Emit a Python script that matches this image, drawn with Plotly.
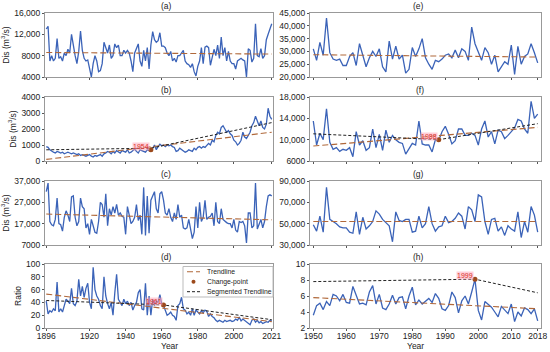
import plotly.graph_objects as go

years_long = list(range(1896, 2022))
years_short = list(range(1950, 2019))

a_vals = [13000, 13500, 7000, 8000, 7000, 7500, 11200, 7500, 7800, 7000, 8500, 8000, 9200, 8500, 12000, 9500,
          8000, 6500, 8800, 12600, 9000, 7500, 7000, 7200, 5500, 4000, 6500, 8000, 7000, 5000, 5200, 6500,
          10500, 9500, 8500, 10000, 7500, 8000, 10200, 9500, 10000, 8000, 8000, 9000, 8500, 9000, 8500, 7000,
          5000, 8500, 9500, 10200, 7000, 6000, 9000, 7000, 9500, 5500, 10000, 12500, 11000, 10500, 10800, 12300,
          9800, 9800, 9500, 8500, 8000, 8800, 7000, 7500, 6800, 8000, 8000, 8500, 9000, 7000, 6500, 6300,
          5800, 6500, 5000, 4200, 6000, 7000, 9500, 6500, 9600, 9800, 9500, 6200, 7500, 9200, 8000, 10000,
          7500, 11500, 8000, 9500, 7000, 8800, 7000, 6500, 6500, 5500, 7000, 7200, 7500, 7200, 7000, 4000,
          9300, 9000, 6800, 7500, 14000, 8000, 7800, 9300, 7500, 8000, 11000, 12000, 13000, 14000]
b_vals = [900, 850, 700, 600, 550, 500, 600, 550, 500, 550, 450, 500, 550, 500, 450, 500,
          450, 400, 450, 350, 400, 350, 300, 350, 400, 300, 250, 350, 300, 350, 400, 300,
          450, 500, 600, 550, 450, 600, 500, 650, 600, 500, 650, 600, 550, 700, 500, 550,
          650, 750, 600, 500, 700, 650, 600, 550, 700, 650, 700, 800, 1000, 700, 900, 1050,
          950, 1000, 900, 1000, 950, 1000, 900, 850, 600, 650, 800, 700, 650, 550, 600, 700,
          650, 600, 800, 700, 850, 900, 800, 900, 850, 950, 1100, 1000, 1300, 1200, 1600, 1800,
          1700, 2100, 2200, 2000, 1800, 1900, 1700, 1600, 1300, 1200, 1000, 1100, 1300, 1800, 1500, 1400,
          1600, 1800, 2200, 2400, 2800, 2500, 2200, 2500, 2100, 2000, 2300, 3300, 2800, 2600]
c_vals = [32000, 36000, 18000, 16500, 16000, 19000, 29000, 17000, 16500, 13500, 20000, 23000, 21000, 18000, 29500, 30000,
          20000, 16000, 18000, 29000, 25000, 24000, 15000, 17000, 12000, 19000, 16000, 13000, 12500, 18000, 27000, 26000,
          20000, 31000, 16000, 24000, 21000, 25000, 22000, 26000, 21000, 22000, 20500, 20000, 12000, 25000, 21000, 17000,
          18000, 20000, 26000, 18500, 21000, 12000, 34000, 11500, 30000, 12500, 28000, 30000, 32000, 24000, 22000, 31000,
          32000, 28000, 22000, 21000, 24000, 20000, 18000, 22000, 19000, 26000, 20000, 21000, 15000, 14500, 15000, 19000,
          14000, 10000, 13000, 25000, 15000, 27000, 18000, 20000, 28000, 19000, 20000, 20500, 22000, 16000, 27000, 18000,
          17000, 24000, 19000, 18000, 17500, 17000, 17000, 15000, 19000, 14000, 13000, 18000, 17500, 18000, 16000, 8000,
          22000, 22000, 15000, 16000, 36000, 14500, 17000, 19000, 15000, 18000, 25000, 30000, 30500, 30000]
d_vals = [42, 22, 27, 25, 30, 27, 72, 25, 30, 25, 35, 45, 42, 38, 62, 38,
          35, 42, 76, 50, 65, 48, 62, 70, 40, 30, 95, 60, 50, 45, 35, 30,
          80, 50, 38, 30, 40, 20, 55, 84, 45, 40, 35, 45, 38, 42, 35, 40,
          28, 35, 40, 55, 60, 30, 28, 70, 20, 50, 20, 45, 35, 42, 40, 52,
          38, 35, 28, 20, 22, 25, 20, 18, 12, 35, 38, 48, 30, 28, 22, 25,
          20, 30, 20, 28, 25, 22, 27, 24, 28, 26, 18, 22, 18, 16, 12, 10,
          12, 10, 9, 12, 10, 11, 12, 10, 11, 14, 12, 17, 11, 14, 12, 10,
          8, 5, 12, 14, 9, 12, 8, 10, 7, 8, 10, 9, 12, 11]

e_vals = [31000, 26500, 33500, 28500, 43000, 29500, 27000, 26500, 27000, 24500, 24500, 28000, 29500, 24500, 33000, 28000,
          24000, 27500, 30000, 28000, 31000, 24000, 22000, 34000, 27000, 32000, 27000, 28500, 21500, 23000, 31500, 28000,
          31000, 35000, 27500, 25000, 23000, 26500, 26000, 27000, 28500, 29000, 27500, 30500, 27500, 31000, 30000, 26500,
          39500, 33000, 30000, 26500, 31500, 29500, 25000, 28500, 22000, 24000, 26000, 25000, 32500, 21000, 32000, 25000,
          28000, 29000, 33000, 29500, 25500]
f_vals = [13500, 9000, 11200, 10000, 15800, 9500, 8200, 8500, 7800, 8200, 8000, 8500, 6800, 11500, 9000, 9800,
          8000, 8500, 12000, 8500, 11000, 8000, 11800, 9500, 10800, 10000, 9500, 9300, 7300, 8200, 9300, 9000,
          13500, 9200, 9000, 9000, 7700, 10000, 9800, 11500, 12500, 11000, 9200, 9800, 12000, 12000, 10800, 10800,
          11200, 10800, 9000, 12000, 13500, 10500, 11500, 9200, 11800, 11500, 10200, 10800, 11500, 12200, 13800, 13500,
          12000, 11200, 17200, 14000, 14800]
g_vals = [49000, 43000, 57000, 42000, 84000, 54000, 52000, 50000, 47000, 46000, 46000, 42000, 41000, 61000, 40000, 56000,
          45000, 48000, 52000, 62000, 59000, 54000, 51000, 48000, 33000, 61000, 53000, 52000, 54000, 54000, 42000, 43000,
          57000, 46000, 50000, 66000, 50000, 43000, 47000, 48000, 57000, 51000, 52000, 55000, 60000, 57000, 45000, 66000,
          63000, 52000, 77000, 75000, 52000, 40000, 54000, 55000, 43000, 47000, 39000, 48000, 45000, 43000, 61000, 37000,
          52000, 42000, 66000, 58000, 42000]
h_vals = [3.6, 4.8, 5.1, 4.3, 5.3, 4.8, 6.2, 6.0, 5.4, 6.2, 5.2, 5.1, 7.2, 6.2, 5.0, 5.1,
          4.9, 6.5, 7.3, 5.0, 6.2, 4.5, 4.3, 5.0, 6.1, 5.0, 5.8, 5.9, 4.4, 6.0, 7.1, 4.9,
          5.5, 5.0, 5.3, 5.7, 5.2, 6.3, 5.7, 4.4, 4.2, 4.8, 6.5, 5.8, 3.9, 5.4, 6.0, 5.0,
          6.5, 8.1, 4.2, 3.0, 5.3, 4.9, 4.6, 4.0, 3.4, 4.7, 4.2, 3.8, 5.0, 2.8, 4.0, 3.5,
          4.5, 4.3, 3.8, 4.4, 2.9]

# trendline endpoints (first year, last year)
trend_a = [8600, 8300]
trend_b = [100, 1800]
trend_c = [21500, 18800]
trend_d = [53, 10]
trend_e = [28700, 27800]
trend_f = [8800, 12300]
trend_g = [52000, 52000]
trend_h = [5.8, 4.4]

# change points [year, value] and segmented trendlines [start, change-point, end]
cp_b = [1954, 700]
seg_b = [700, 800, 2400]
cp_d = [1961, 36]
seg_d = [43, 36, 13]
cp_f = [1988, 10000]
seg_f = [11100, 10000, 13000]
cp_h = [1999, 8.1]
seg_h = [7.8, 8.1, 6.4]

left_ticks = [1896, 1920, 1940, 1960, 1980, 2000, 2021]
right_ticks = [1950, 1960, 1970, 1980, 1990, 2000, 2010, 2018]

yt_a = [4000, 8000, 12000, 16000]; yl_a = ["4000", "8000", "12,000", "16,000"]
yt_b = [0, 1000, 2000, 3000, 4000]; yl_b = ["0", "1000", "2000", "3000", "4000"]
yt_c = [7000, 17000, 27000, 37000]; yl_c = ["7000", "17,000", "27,000", "37,000"]
yt_d = [0, 20, 40, 60, 80, 100]; yl_d = ["0", "20", "40", "60", "80", "100"]
yt_e = [20000, 25000, 30000, 35000, 40000, 45000]; yl_e = ["20,000", "25,000", "30,000", "35,000", "40,000", "45,000"]
yt_f = [6000, 10000, 14000, 18000]; yl_f = ["6000", "10,000", "14,000", "18,000"]
yt_g = [30000, 50000, 70000, 90000]; yl_g = ["30,000", "50,000", "70,000", "90,000"]
yt_h = [2, 4, 6, 8, 10]; yl_h = ["2", "4", "6", "8", "10"]

legend_labels = ["Trendline", "Change-point", "Segmented Trendline"]

W, H = 550, 352
LINE = "#3b63b8"
TREND = "#b0683a"
SEG = "#222222"
CPC = "#9c4a1c"
FONT = "Liberation Sans, Arial, sans-serif"
TXT = "#222"

def px_x(a, b):
    return [a / W, b / W]

def px_y(top, bot):
    return [1 - bot / H, 1 - top / H]

def fx(p):
    return p / W

def fy(p):
    return 1 - p / H

left_dom = px_x(45, 273)
right_dom = px_x(310, 541)
rows = [(13, 77), (97, 161), (181, 245), (264, 328)]

panels = [
    ("a", years_long, a_vals, trend_a, None, None, yt_a, yl_a, [4000, 16000], "left", 0),
    ("b", years_long, b_vals, trend_b, cp_b, seg_b, yt_b, yl_b, [0, 4000], "left", 1),
    ("c", years_long, c_vals, trend_c, None, None, yt_c, yl_c, [7000, 37000], "left", 2),
    ("d", years_long, d_vals, trend_d, cp_d, seg_d, yt_d, yl_d, [0, 100], "left", 3),
    ("e", years_short, e_vals, trend_e, None, None, yt_e, yl_e, [20000, 45000], "right", 0),
    ("f", years_short, f_vals, trend_f, cp_f, seg_f, yt_f, yl_f, [6000, 18000], "right", 1),
    ("g", years_short, g_vals, trend_g, None, None, yt_g, yl_g, [30000, 90000], "right", 2),
    ("h", years_short, h_vals, trend_h, cp_h, seg_h, yt_h, yl_h, [2, 10], "right", 3),
]

fig = go.Figure()
annotations = []
shapes = []
layout = {}
for i, (name, xs, ys, tr, cp, seg, yt, yl, yr, side, r) in enumerate(panels):
    k = "" if i == 0 else str(i + 1)
    xa, ya = "x" + k, "y" + k
    xdom = left_dom if side == "left" else right_dom
    ydom = px_y(*rows[r])
    xticks = left_ticks if side == "left" else right_ticks
    xrange = [1895.3, 2021.7] if side == "left" else [1949, 2019]
    bottom = r == 3
    fig.add_trace(go.Scatter(x=xs, y=ys, mode="lines", line=dict(color=LINE, width=1.3),
                             xaxis=xa, yaxis=ya, showlegend=False, hoverinfo="skip"))
    fig.add_trace(go.Scatter(x=[xs[0], xs[-1]], y=tr, mode="lines",
                             line=dict(color=TREND, width=1.1, dash="6px,3px"),
                             xaxis=xa, yaxis=ya, name="Trendline", showlegend=False))
    if cp is not None:
        fig.add_trace(go.Scatter(x=[xs[0], cp[0], xs[-1]], y=seg, mode="lines",
                                 line=dict(color=SEG, width=1.0, dash="3px,2px"),
                                 xaxis=xa, yaxis=ya, name="Segmented Trendline", showlegend=False))
        fig.add_trace(go.Scatter(x=[cp[0]], y=[cp[1]], mode="markers",
                                 marker=dict(color=CPC, size=5),
                                 xaxis=xa, yaxis=ya, name="Change-point", showlegend=False))
        annotations.append(dict(x=cp[0], y=cp[1], xref=xa, yref=ya, text=str(cp[0]),
                                showarrow=False, xanchor="right", yanchor="bottom", xshift=-1, yshift=-1,
                                font=dict(color="#d9302a", size=7, family=FONT),
                                bgcolor="rgba(255,170,185,0.55)", borderpad=0))
    layout["xaxis" + k] = dict(domain=xdom, anchor=ya, range=xrange, tickvals=xticks,
                               showticklabels=bottom, ticks="outside", ticklen=2, tickcolor="#555",
                               ticklabelstandoff=-2,
                               showline=True, linecolor="#999", linewidth=1, mirror=True,
                               showgrid=False, zeroline=False, automargin=False,
                               tickfont=dict(size=8.5, family=FONT, color=TXT))
    ytitle = None
    if side == "left":
        ytitle = dict(text="Ratio" if name == "d" else "Dis (m<sup>3</sup>/s)",
                      font=dict(size=8.5, family=FONT, color=TXT), standoff=3)
    layout["yaxis" + k] = dict(domain=ydom, anchor=xa, range=yr, tickvals=yt, ticktext=yl,
                               ticks="outside", ticklen=2, tickcolor="#555",
                               showline=True, linecolor="#999", linewidth=1, mirror=True,
                               showgrid=False, zeroline=False, automargin=False,
                               tickfont=dict(size=8.5, family=FONT, color=TXT),
                               title=ytitle)
    annotations.append(dict(x=(xdom[0] + xdom[1]) / 2, y=ydom[1], xref="paper", yref="paper",
                            text="(" + name + ")", showarrow=False, yanchor="bottom", yshift=0,
                            font=dict(size=8.5, family=FONT, color=TXT)))
    if bottom:
        annotations.append(dict(x=(xdom[0] + xdom[1]) / 2, y=fy(345.5), xref="paper", yref="paper",
                                text="Year", showarrow=False, yanchor="middle",
                                font=dict(size=8.5, family=FONT, color=TXT)))

# legend box for panel (d)
shapes.append(dict(type="rect", xref="paper", yref="paper", x0=fx(183), x1=fx(273), y0=fy(297), y1=fy(266.5),
                   line=dict(color="#bbb", width=1), fillcolor="rgba(255,255,255,0.9)", layer="above"))
leg_y = [271.7, 281.7, 291.7]
shapes.append(dict(type="line", xref="paper", yref="paper", x0=fx(187), x1=fx(200), y0=fy(leg_y[0]), y1=fy(leg_y[0]),
                   line=dict(color=TREND, width=1.1, dash="6px,3px"), layer="above"))
shapes.append(dict(type="circle", xref="paper", yref="paper", x0=fx(191.5), x1=fx(195.5),
                   y0=fy(leg_y[1] + 2), y1=fy(leg_y[1] - 2), line=dict(color=CPC, width=0),
                   fillcolor=CPC, layer="above"))
shapes.append(dict(type="line", xref="paper", yref="paper", x0=fx(187), x1=fx(200), y0=fy(leg_y[2]), y1=fy(leg_y[2]),
                   line=dict(color=SEG, width=1.0, dash="3px,2px"), layer="above"))
for lab, ly in zip(legend_labels, leg_y):
    annotations.append(dict(x=fx(205), y=fy(ly), xref="paper", yref="paper", text=lab, showarrow=False,
                            xanchor="left", yanchor="middle", font=dict(size=6.8, family=FONT, color=TXT)))

fig.update_layout(**layout)
fig.update_layout(width=W, height=H, margin=dict(l=0, r=0, t=0, b=0),
                  paper_bgcolor="white", plot_bgcolor="white", showlegend=False,
                  annotations=annotations, shapes=shapes, font=dict(family=FONT))
fig.write_html("out.html", config={"displayModeBar": False},
               post_script="document.body.style.margin='0';document.body.style.overflow='hidden';")
